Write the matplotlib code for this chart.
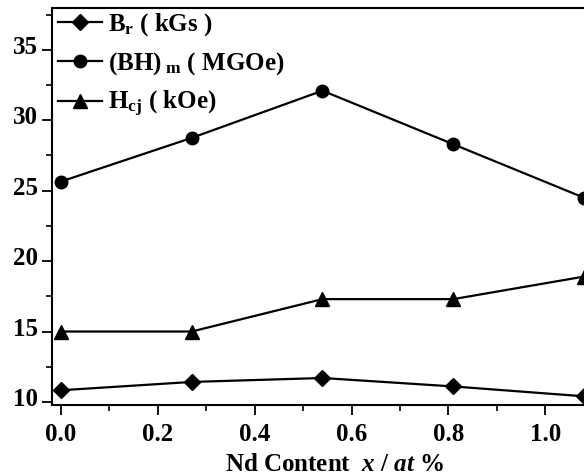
import matplotlib.pyplot as plt
import matplotlib.transforms as mtransforms
from matplotlib.ticker import MultipleLocator

# Nd content (at %)
nd_content = [0.0, 0.27, 0.54, 0.81, 1.08]

# Magnetic properties
br_kgs = [10.83, 11.42, 11.7, 11.1, 10.4]
bh_mgoe = [25.65, 28.75, 32.1, 28.3, 24.5]
hcj_koe = [15.0, 15.0, 17.3, 17.3, 18.9]

plt.rcParams['font.family'] = 'Liberation Serif'
plt.rcParams['font.weight'] = 'bold'
plt.rcParams['mathtext.fontset'] = 'custom'
plt.rcParams['mathtext.rm'] = 'Liberation Serif:bold'
plt.rcParams['mathtext.it'] = 'Liberation Serif:bold:italic'
plt.rcParams['mathtext.bf'] = 'Liberation Serif:bold'

fig = plt.figure(figsize=(5.84, 4.75), dpi=100)
ax = fig.add_axes([0.089, 0.147, 0.969, 0.837])

ax.plot(nd_content, br_kgs, color='black', lw=1.6, marker='D', markersize=8,
        label=r'B$_\mathrm{r}$ ( kGs )')
ax.plot(nd_content, bh_mgoe, color='black', lw=1.6, marker='o', markersize=9,
        label=r'(BH)$_\mathrm{\ m}$ ( MGOe)')
ax.plot(nd_content, hcj_koe, color='black', lw=1.6, marker='^', markersize=10,
        label=r'H$_\mathrm{cj}$ ( kOe)')

ax.set_xlim(-0.0186, 1.15)
ax.set_ylim(9.77, 38.0)
ax.xaxis.set_major_locator(MultipleLocator(0.2))
ax.xaxis.set_minor_locator(MultipleLocator(0.1))
ax.yaxis.set_major_locator(MultipleLocator(5))
ax.yaxis.set_minor_locator(MultipleLocator(2.5))
ax.xaxis.set_major_formatter(plt.FormatStrFormatter('%.1f'))

ax.tick_params(which='major', direction='out', length=7, width=1.3, labelsize=18)
ax.tick_params(axis='x', which='major', pad=6)
ax.tick_params(axis='y', which='major', pad=3)
ax.tick_params(which='minor', direction='out', length=4, width=1.2)
ax.tick_params(top=False, right=False)
for s in ax.spines.values():
    s.set_linewidth(1.5)

# y tick labels sit a little above their ticks in the original
shift = mtransforms.ScaledTranslation(0, 5 / 100, fig.dpi_scale_trans)
for lbl in ax.get_yticklabels():
    lbl.set_transform(lbl.get_transform() + shift)

ax.set_xlabel(r'Nd Content  $x$ / $at$ %', fontsize=18, fontweight='bold', labelpad=5)

ax.legend(loc='upper left', bbox_to_anchor=(-0.02, 1.035), frameon=False,
          fontsize=18, handlelength=1.75, handletextpad=0.25, labelspacing=0.48,
          borderpad=0.2)

plt.savefig('out.png', dpi=100)
